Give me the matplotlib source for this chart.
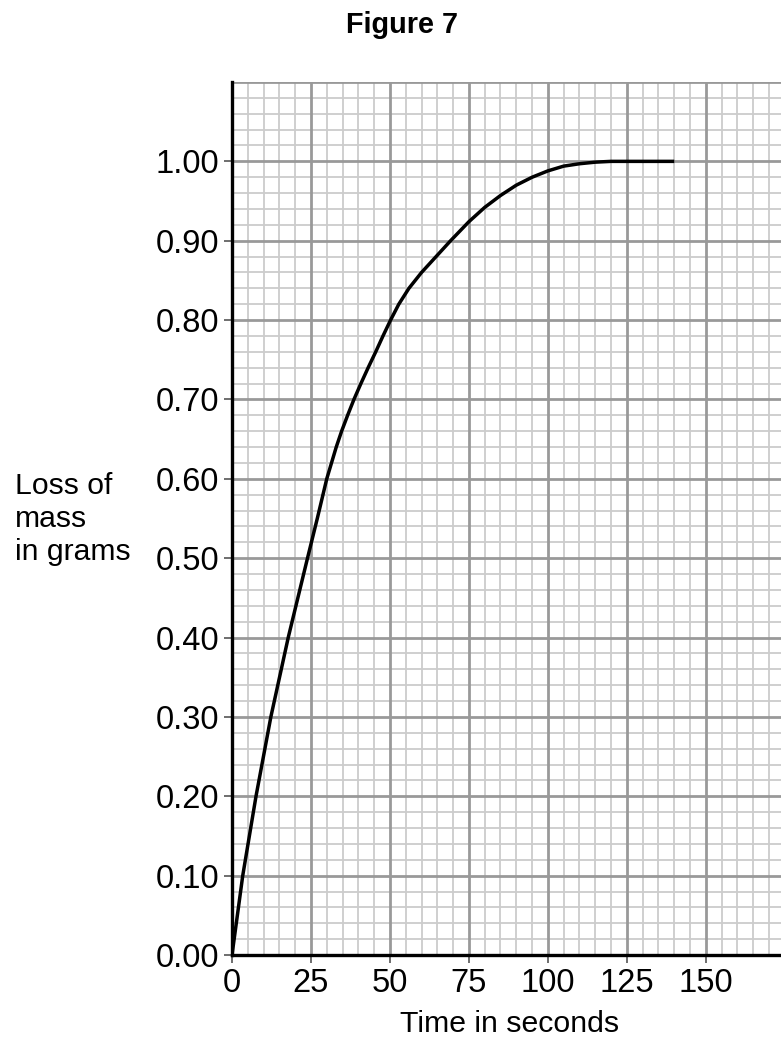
import matplotlib
matplotlib.use("Agg")
import matplotlib.pyplot as plt
from matplotlib.ticker import MultipleLocator

plt.rcParams['font.family'] = ['Liberation Sans', 'DejaVu Sans']

# Data
time_s = [0, 3.4, 7.6, 12.3, 17.8, 23.9, 27.0, 30.0, 31.5, 33.0, 34.7, 36.6, 38.6, 40.8, 43.1, 45.5, 47.8,
          50.2, 52.8, 56.0, 60.0, 64.6, 69.2, 75, 80, 85, 90, 95, 100, 105, 110, 115, 120, 140]
loss_g = [0.0, 0.10, 0.20, 0.30, 0.40, 0.50, 0.55, 0.60, 0.62, 0.64, 0.66, 0.68, 0.70, 0.72, 0.74, 0.76, 0.78,
          0.80, 0.82, 0.84, 0.86, 0.88, 0.90, 0.924, 0.942, 0.957, 0.970, 0.980, 0.988, 0.994, 0.997, 0.999, 1.0, 1.0]

x_ticks = [0, 25, 50, 75, 100, 125, 150]
x_tick_labels = ["0", "25", "50", "75", "100", "125", "150"]
y_ticks = [0.0, 0.1, 0.2, 0.3, 0.4, 0.5, 0.6, 0.7, 0.8, 0.9, 1.0]
y_tick_labels = ["0.00", "0.10", "0.20", "0.30", "0.40", "0.50", "0.60", "0.70", "0.80", "0.90", "1.00"]

W, H = 781, 1041
fig = plt.figure(figsize=(W / 100, H / 100), dpi=100)
left, right, bottom, top = 232, 781, 955, 82
ax = fig.add_axes([left / W, 1 - bottom / H, (right - left) / W, (bottom - top) / H])

ax.set_xlim(0, 173.8)
ax.set_ylim(0, 1.10)

# Graph paper grid
ax.xaxis.set_minor_locator(MultipleLocator(5))
ax.yaxis.set_minor_locator(MultipleLocator(0.02))
ax.grid(which='minor', color='#cccccc', linewidth=1.3, zorder=0)
for xv in [0, 25, 50, 75, 100, 125, 150, 175]:
    ax.axvline(xv, color='#999999', linewidth=2.0, zorder=1)
for yv in [0.1 * i for i in range(12)]:
    ax.axhline(yv, color='#999999', linewidth=2.0, zorder=1)
ax.set_axisbelow(True)

ax.plot(time_s, loss_g, color='black', linewidth=2.5, solid_capstyle='butt',
        solid_joinstyle='round', zorder=5)

ax.set_xticks(x_ticks)
ax.set_xticklabels(x_tick_labels)
ax.set_yticks(y_ticks)
ax.set_yticklabels(y_tick_labels)
ax.tick_params(which='major', length=6, width=1.2, color='#555555', labelsize=23.5, pad=3)
ax.tick_params(which='minor', length=0)

for s in ['top', 'right']:
    ax.spines[s].set_visible(False)
for s in ['left', 'bottom']:
    ax.spines[s].set_linewidth(2.4)
    ax.spines[s].set_color('black')
    ax.spines[s].set_zorder(6)

fig.text(402 / W, 1 - 33 / H, "Figure 7", ha='center', va='baseline', fontsize=20.8, fontweight='bold')
fig.text(15 / W, 1 - 519 / H, "Loss of\nmass\nin grams", ha='left', va='center', fontsize=21.7, linespacing=1.22)
fig.text(510 / W, 1 - 1032 / H, "Time in seconds", ha='center', va='baseline', fontsize=21.8)

fig.savefig("out.png", dpi=100)
